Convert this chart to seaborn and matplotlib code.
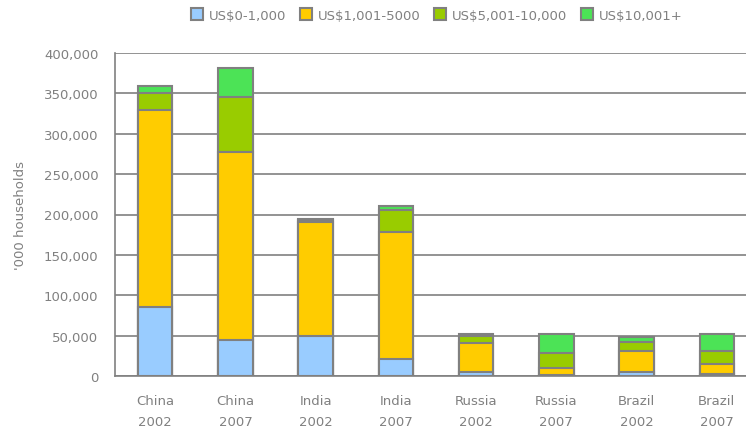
import numpy as np
import pandas as pd
import matplotlib
matplotlib.use("Agg")
import matplotlib.pyplot as plt
import seaborn as sns
from matplotlib.lines import Line2D

# data ('000 households)
categories = ["China\n2002", "China\n2007", "India\n2002", "India\n2007",
              "Russia\n2002", "Russia\n2007", "Brazil\n2002", "Brazil\n2007"]
band_0_1000 = [85000, 45000, 49000, 21000, 4500, 1000, 4500, 2000]
band_1001_5000 = [245000, 233000, 142000, 157000, 36000, 9500, 26500, 13000]
band_5001_10000 = [20000, 68000, 2500, 28000, 9000, 18000, 10500, 15500]
band_10001_plus = [9000, 36000, 500, 5000, 3000, 23500, 6500, 21500]
band_names = ["US\\$0-1,000", "US\\$1,001-5000", "US\\$5,001-10,000", "US\\$10,001+"]
band_colors = ["#99CCFF", "#FFCC00", "#99CC00", "#4CE356"]

grey = "#808080"

df = pd.DataFrame({"cat": categories,
                   "b1": band_0_1000, "b2": band_1001_5000,
                   "b3": band_5001_10000, "b4": band_10001_plus})
cols = ["b1", "b2", "b3", "b4"]
cum = df[cols].cumsum(axis=1)

sns.set_style("white")
plt.rcParams["font.family"] = ["DejaVu Sans"]

fig = plt.figure(figsize=(7.46, 4.31), dpi=100)
ax = fig.add_axes([115 / 746, 54 / 431, 642 / 746, 323 / 431])

# stacked bars: draw tallest cumulative first, then cover with lower ones
for i in range(3, -1, -1):
    sns.barplot(x=df["cat"], y=cum[cols[i]], color=band_colors[i], width=0.43,
                edgecolor=grey, linewidth=1.5, saturation=1, ax=ax, zorder=3)

ax.set_ylim(0, 400000)
ax.set_xlim(-0.5, 7.5)
ax.set_yticks(np.arange(0, 400001, 50000))
ax.set_yticklabels([f"{v:,}" for v in range(0, 400001, 50000)])
ax.yaxis.grid(True, color=grey, linewidth=1.2, zorder=0)
ax.set_axisbelow(True)

ax.set_xticks(np.arange(8))
ax.set_xticklabels(categories, linespacing=1.8)
ax.set_xticks(np.arange(-0.5, 8, 1), minor=True)
ax.tick_params(axis="x", which="major", length=0, pad=13, labelsize=9.5, labelcolor=grey)
ax.tick_params(axis="x", which="minor", length=5, color=grey, width=1.2, direction="out")
ax.tick_params(axis="y", length=6, color=grey, width=1.2, direction="out",
               labelsize=9.5, labelcolor=grey, pad=6)

ax.set_xlabel("")
ax.set_ylabel("'000 households", color=grey, fontsize=9.5, labelpad=12)

for s in ["top", "right"]:
    ax.spines[s].set_visible(False)
for s in ["left", "bottom"]:
    ax.spines[s].set_color(grey)
    ax.spines[s].set_linewidth(1.2)

handles = [Line2D([], [], marker="s", linestyle="", markersize=8,
                  markerfacecolor=c, markeredgecolor=grey, markeredgewidth=1.5)
           for c in band_colors]
fig.legend(handles, band_names, loc="center", bbox_to_anchor=(0.585, 0.962),
           ncol=4, frameon=False, fontsize=9.5, labelcolor=grey,
           handletextpad=0.4, handlelength=1.0, columnspacing=1.0)

fig.savefig("out.png", dpi=100)
